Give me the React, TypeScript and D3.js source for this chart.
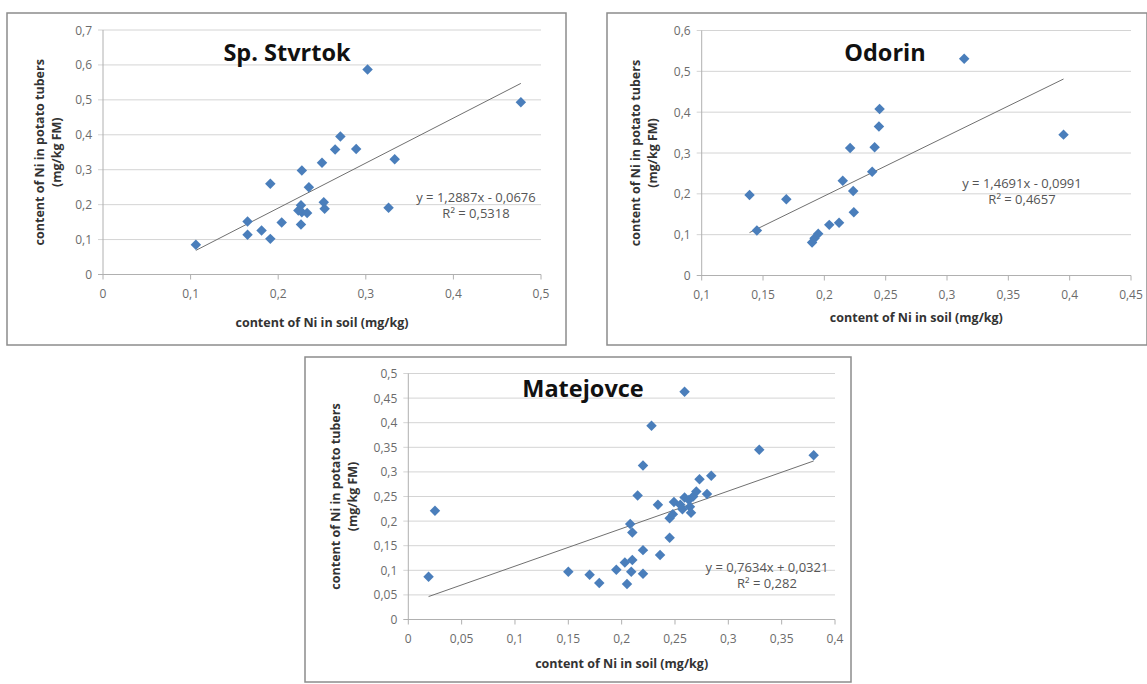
import { useEffect, useRef } from "react";
import * as d3 from "d3";

// Sp. Stvrtok
const stvrtokSoil = [0.106, 0.165, 0.165, 0.181, 0.191, 0.191, 0.204, 0.227, 0.226, 0.223, 0.227, 0.233, 0.226, 0.235, 0.25, 0.252, 0.253, 0.265, 0.271, 0.289, 0.302, 0.326, 0.333, 0.477];
const stvrtokTuber = [0.085, 0.152, 0.114, 0.126, 0.102, 0.26, 0.149, 0.298, 0.198, 0.183, 0.178, 0.176, 0.143, 0.25, 0.32, 0.207, 0.188, 0.358, 0.395, 0.359, 0.587, 0.191, 0.33, 0.493];
const stvrtokXTicks = [0, 0.1, 0.2, 0.3, 0.4, 0.5];
const stvrtokYTicks = [0, 0.1, 0.2, 0.3, 0.4, 0.5, 0.6, 0.7];
const stvrtokTrend = [1.2887, -0.0676];
const stvrtokLabels = ["y = 1,2887x - 0,0676", "R² = 0,5318"];

// Odorin
const odorinSoil = [0.139, 0.145, 0.169, 0.19, 0.192, 0.195, 0.204, 0.212, 0.215, 0.221, 0.2235, 0.224, 0.239, 0.241, 0.2445, 0.245, 0.314, 0.395];
const odorinTuber = [0.197, 0.11, 0.187, 0.081, 0.091, 0.102, 0.124, 0.129, 0.232, 0.312, 0.207, 0.155, 0.254, 0.314, 0.365, 0.408, 0.531, 0.345];
const odorinXTicks = [0.1, 0.15, 0.2, 0.25, 0.3, 0.35, 0.4, 0.45];
const odorinYTicks = [0, 0.1, 0.2, 0.3, 0.4, 0.5, 0.6];
const odorinTrend = [1.4691, -0.0991];
const odorinLabels = ["y = 1,4691x - 0,0991", "R² = 0,4657"];

// Matejovce
const matejovceSoil = [0.019, 0.025, 0.15, 0.17, 0.179, 0.195, 0.203, 0.205, 0.209, 0.21, 0.208, 0.21, 0.215, 0.22, 0.22, 0.22, 0.228, 0.234, 0.236, 0.245, 0.245, 0.248, 0.249, 0.255, 0.257, 0.259, 0.259, 0.263, 0.264, 0.265, 0.267, 0.27, 0.273, 0.28, 0.284, 0.329, 0.38];
const matejovceTuber = [0.087, 0.221, 0.097, 0.091, 0.074, 0.101, 0.116, 0.072, 0.097, 0.121, 0.194, 0.177, 0.252, 0.141, 0.313, 0.093, 0.394, 0.233, 0.131, 0.166, 0.206, 0.214, 0.239, 0.233, 0.224, 0.248, 0.463, 0.243, 0.229, 0.217, 0.25, 0.26, 0.285, 0.255, 0.292, 0.345, 0.334];
const matejovceXTicks = [0, 0.05, 0.1, 0.15, 0.2, 0.25, 0.3, 0.35, 0.4];
const matejovceYTicks = [0, 0.05, 0.1, 0.15, 0.2, 0.25, 0.3, 0.35, 0.4, 0.45, 0.5];
const matejovceTrend = [0.7634, 0.0321];
const matejovceLabels = ["y = 0,7634x + 0,0321", "R² = 0,282"];

const xTitle = "content of Ni in soil (mg/kg)";
const yTitle = ["content of Ni in potato tubers", "(mg/kg FM)"];

const panels = [
  {
    title: "Sp. Stvrtok", soil: stvrtokSoil, tuber: stvrtokTuber, xTicks: stvrtokXTicks, yTicks: stvrtokYTicks,
    trend: stvrtokTrend, labels: stvrtokLabels,
    frame: [7, 13, 566, 345], plot: [103, 30, 541, 274.5],
    titlePos: [287, 52], eqPos: [476, 197], yTitleX: 39, xTitleY: 322,
  },
  {
    title: "Odorin", soil: odorinSoil, tuber: odorinTuber, xTicks: odorinXTicks, yTicks: odorinYTicks,
    trend: odorinTrend, labels: odorinLabels,
    frame: [607, 13, 1147, 345], plot: [701.7, 30.5, 1131, 275.5],
    titlePos: [885, 52], eqPos: [1022, 183], yTitleX: 635, xTitleY: 317,
  },
  {
    title: "Matejovce", soil: matejovceSoil, tuber: matejovceTuber, xTicks: matejovceXTicks, yTicks: matejovceYTicks,
    trend: matejovceTrend, labels: matejovceLabels,
    frame: [305, 357, 851, 682], plot: [408.3, 373.5, 835, 619.5],
    titlePos: [583, 388], eqPos: [767, 567], yTitleX: 335, xTitleY: 663,
  },
];

const fmt = (d: number) => String(+d.toFixed(3)).replace(".", ",");

function drawPanel(svg: any, p: any) {
  const [fx0, fy0, fx1, fy1] = p.frame;
  const [left, top, right, bottom] = p.plot;
  const x = d3.scaleLinear().domain([p.xTicks[0], p.xTicks[p.xTicks.length - 1]]).range([left, right]);
  const y = d3.scaleLinear().domain([p.yTicks[0], p.yTicks[p.yTicks.length - 1]]).range([bottom, top]);
  const g = svg.append("g");

  g.append("rect")
    .attr("x", fx0).attr("y", fy0)
    .attr("width", fx1 - fx0).attr("height", fy1 - fy0)
    .attr("fill", "white").attr("stroke", "#8c8c8c").attr("stroke-width", 1.5);

  // gridlines
  g.selectAll("line.grid")
    .data(p.yTicks.slice(1))
    .enter().append("line")
    .attr("x1", left - 5).attr("x2", right)
    .attr("y1", (d: number) => y(d)).attr("y2", (d: number) => y(d))
    .attr("stroke", "#d4d4d4").attr("stroke-width", 1);

  // axes
  g.append("line").attr("x1", left).attr("x2", left).attr("y1", top).attr("y2", bottom)
    .attr("stroke", "#b0b0b0");
  g.append("line").attr("x1", left - 5).attr("x2", right).attr("y1", bottom).attr("y2", bottom)
    .attr("stroke", "#b0b0b0");
  g.selectAll("line.xtick")
    .data(p.xTicks)
    .enter().append("line")
    .attr("x1", (d: number) => x(d)).attr("x2", (d: number) => x(d))
    .attr("y1", bottom).attr("y2", bottom + 5)
    .attr("stroke", "#b0b0b0");

  // tick labels
  g.selectAll("text.ylab")
    .data(p.yTicks)
    .enter().append("text")
    .attr("x", left - 11).attr("y", (d: number) => y(d))
    .attr("text-anchor", "end").attr("dominant-baseline", "central")
    .attr("font-family", "Open Sans").attr("font-size", 12).attr("fill", "#6b6b6b")
    .text(fmt);
  g.selectAll("text.xlab")
    .data(p.xTicks)
    .enter().append("text")
    .attr("x", (d: number) => x(d)).attr("y", bottom + 19)
    .attr("text-anchor", "middle").attr("dominant-baseline", "central")
    .attr("font-family", "Open Sans").attr("font-size", 12).attr("fill", "#6b6b6b")
    .text(fmt);

  // axis titles
  g.append("text")
    .attr("x", (left + right) / 2).attr("y", p.xTitleY)
    .attr("text-anchor", "middle").attr("dominant-baseline", "central")
    .attr("font-family", "Open Sans").attr("font-weight", "bold").attr("font-size", 12.5).attr("fill", "#333")
    .text(xTitle);
  yTitle.forEach((t, i) => {
    const cx = p.yTitleX + i * 17;
    const cy = (top + bottom) / 2;
    g.append("text")
      .attr("transform", `translate(${cx},${cy}) rotate(-90)`)
      .attr("text-anchor", "middle").attr("dominant-baseline", "central")
      .attr("font-family", "Open Sans").attr("font-weight", "bold").attr("font-size", 12.5).attr("fill", "#333")
      .text(t);
  });

  // trendline over the data range
  const [x0, x1] = d3.extent(p.soil) as [number, number];
  const [a, b] = p.trend;
  g.append("line")
    .attr("x1", x(x0)).attr("y1", y(a * x0 + b))
    .attr("x2", x(x1)).attr("y2", y(a * x1 + b))
    .attr("stroke", "#707070").attr("stroke-width", 1);

  // points
  const sym = (d3 as any).symbolDiamond2 || d3.symbolDiamond;
  const diamond = d3.symbol().type(sym).size(70);
  g.selectAll("path.pt")
    .data(p.soil.map((s: number, i: number) => [s, p.tuber[i]]))
    .enter().append("path")
    .attr("d", diamond)
    .attr("transform", (d: number[]) => `translate(${x(d[0])},${y(d[1])})`)
    .attr("fill", "#4a7ebb");

  // equation
  p.labels.forEach((t: string, i: number) => {
    g.append("text")
      .attr("x", p.eqPos[0]).attr("y", p.eqPos[1] + i * 16)
      .attr("text-anchor", "middle").attr("dominant-baseline", "central")
      .attr("font-family", "Open Sans").attr("font-size", 13).attr("fill", "#555")
      .text(t);
  });

  // title
  g.append("text")
    .attr("x", p.titlePos[0]).attr("y", p.titlePos[1])
    .attr("text-anchor", "middle").attr("dominant-baseline", "central")
    .attr("font-family", "Open Sans").attr("font-weight", "bold").attr("font-size", 23.5).attr("fill", "#111")
    .text(p.title);
}

export default function App() {
  const svgRef = useRef<SVGSVGElement>(null);

  useEffect(() => {
    const svg = d3.select(svgRef.current);
    svg.selectAll("*").remove();
    svg.append("rect").attr("width", 1147).attr("height", 684).attr("fill", "white");
    panels.forEach(p => drawPanel(svg, p));
  }, []);

  return (
    <svg
      ref={svgRef}
      width={1147}
      height={684}
      style={{ position: "absolute", left: 0, top: 0 }}
    ></svg>
  );
}
